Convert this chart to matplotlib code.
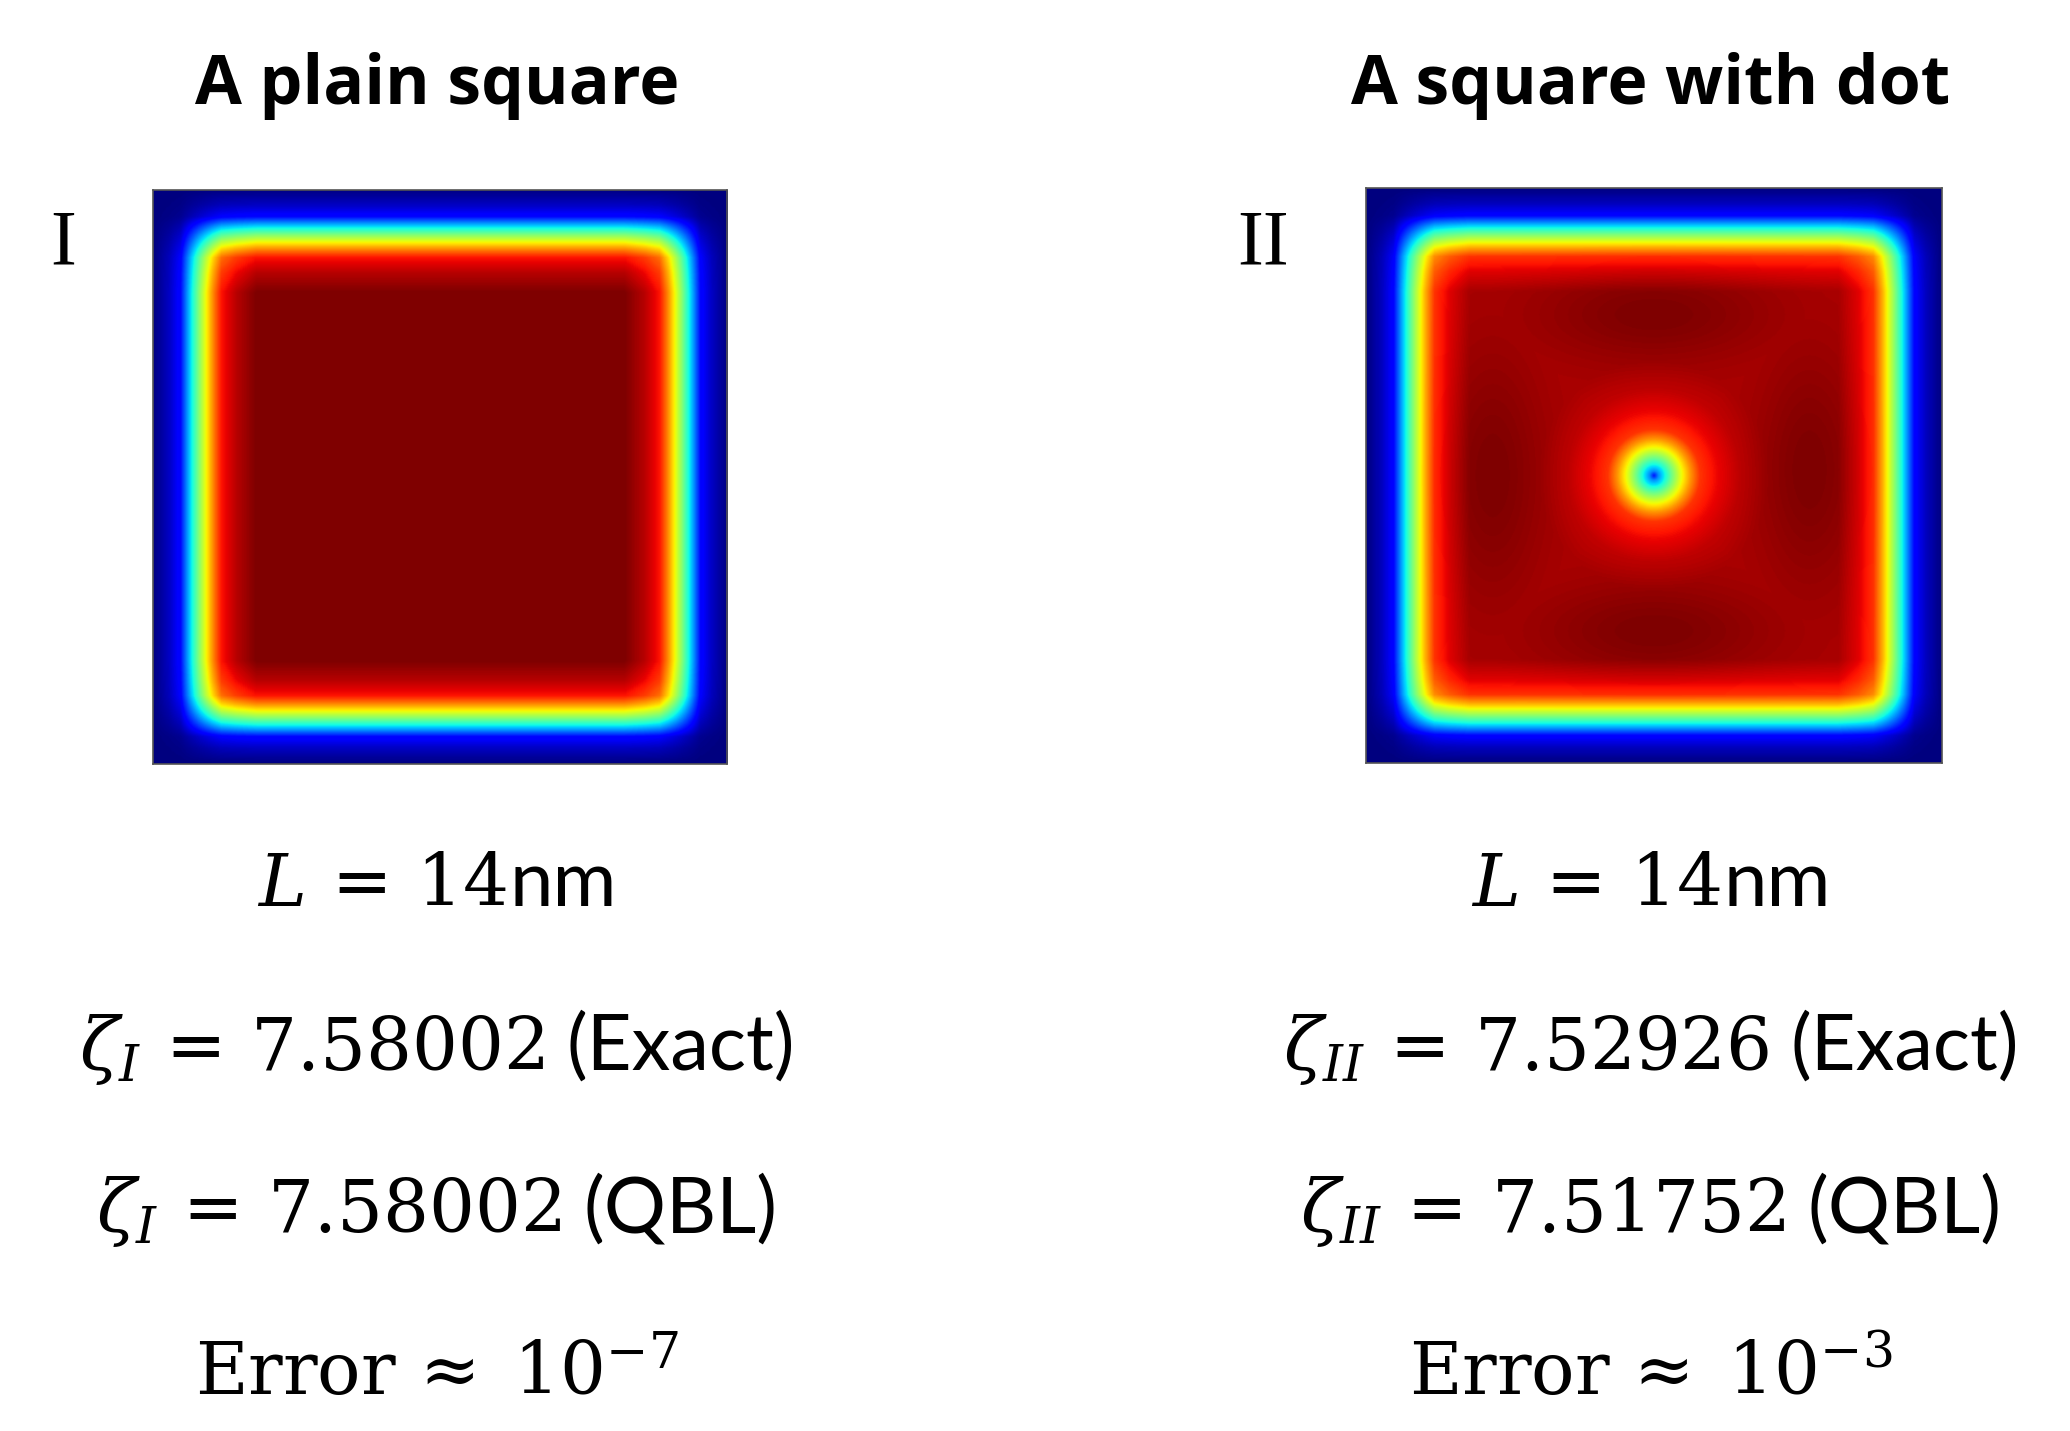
import numpy as np
import matplotlib
matplotlib.use("Agg")
import matplotlib.pyplot as plt

# edge profile: distance from the wall (fraction of side) -> normalised density
edge_dist = [0.0, 0.028, 0.048, 0.066, 0.079, 0.092, 0.104, 0.119, 0.145, 0.180, 0.5]
edge_level = [0.0, 0.06, 0.13, 0.35, 0.50, 0.64, 0.76, 0.89, 0.95, 1.00, 1.00]

# dot profile (panel II): distance from the centre -> factor
dot_r = [0.0, 0.008, 0.017, 0.030, 0.045, 0.063, 0.080, 0.110, 0.150, 0.200, 1.0]
dot_level = [0.15, 0.28, 0.37, 0.50, 0.64, 0.78, 0.89, 0.94, 0.98, 1.00, 1.00]

# darker lobes in panel II: centre x, centre y, spread x, spread y
lobe_x = [0.50, 0.50, 0.22, 0.77]
lobe_y = [0.22, 0.77, 0.50, 0.49]
lobe_sx = [0.15, 0.15, 0.065, 0.065]
lobe_sy = [0.06, 0.06, 0.16, 0.15]
interior_base = 0.96

titles = ["A plain square", "A square with dot"]
panel_tags = ["I", "II"]
zeta_exact = ["7.58002", "7.52926"]
zeta_qbl = ["7.58002", "7.51752"]
zeta_sub = ["I", "II"]
error_exp = ["-7", "-3"]

plt.rcParams["mathtext.fontset"] = "custom"
plt.rcParams["mathtext.rm"] = "DejaVu Serif"
plt.rcParams["mathtext.it"] = "DejaVu Serif:italic"

n = 600
u = (np.arange(n) + 0.5) / n
X, Y = np.meshgrid(u, u)
d = np.minimum(u, 1 - u)
edge = np.interp(d, edge_dist, edge_level)
field_1 = np.outer(edge, edge)

r = np.hypot(X - 0.5, Y - 0.5)
dot = np.interp(r, dot_r, dot_level)
lobes = np.zeros_like(X)
for cx, cy, sx, sy in zip(lobe_x, lobe_y, lobe_sx, lobe_sy):
    lobes = np.maximum(lobes, np.exp(-((X - cx) / sx) ** 2 / 2 - ((Y - cy) / sy) ** 2 / 2))
field_2 = field_1 * dot * (interior_base + (1 - interior_base) * lobes)

fig = plt.figure(figsize=(20.7, 14.31), dpi=100)
W, H = 2070, 1431
renderer = fig.canvas.get_renderer()


def eq_line(cx, base, math, sans, gap):
    # serif math part followed by a sans word, centred as one line
    t1 = fig.text(0, 1 - base / H, math, fontsize=52, va="baseline", ha="left")
    t2 = fig.text(0, 1 - base / H, sans, fontsize=56, family="Lato",
                  va="baseline", ha="left")
    w1 = t1.get_window_extent(renderer).width
    w2 = t2.get_window_extent(renderer).width
    left = cx - (w1 + gap + w2) / 2
    t1.set_x(left / W)
    t2.set_x((left + w1 + gap) / W)


boxes = [(153, 190, 574, 574), (1366, 188, 576, 575)]
centres = [437, 1651]
tag_x = [63, 1263]

for k, field in enumerate([field_1, field_2]):
    x0, y0, w, h = boxes[k]
    ax = fig.add_axes([x0 / W, 1 - (y0 + h) / H, w / W, h / H])
    ax.imshow(field, cmap="jet", vmin=0, vmax=1, interpolation="bilinear",
              extent=[0, 1, 0, 1], aspect="auto")
    ax.set_xticks([])
    ax.set_yticks([])
    for s in ax.spines.values():
        s.set_color("#555555")
        s.set_linewidth(1.2)

    cx = centres[k]
    fig.text(cx / W, 1 - 104 / H, titles[k], ha="center", va="baseline",
             fontsize=49, fontweight="bold", family="Open Sans")
    fig.text(tag_x[k] / W, 1 - 264 / H, panel_tags[k], ha="center", va="baseline",
             fontsize=56, family="Liberation Serif")

    eq_line(cx, 906, "$L\\,=\\,14$", "nm", 2)
    eq_line(cx, 1070, "$\\zeta_{%s}\\,=\\,%s$" % (zeta_sub[k], zeta_exact[k]), "(Exact)", 22)
    eq_line(cx, 1232, "$\\zeta_{%s}\\,=\\,%s$" % (zeta_sub[k], zeta_qbl[k]), "(QBL)", 22)
    fig.text(cx / W, 1 - 1395 / H,
             "$\\mathrm{Error}\\,\\approx\\;10^{%s}$" % error_exp[k],
             ha="center", va="baseline", fontsize=52)

fig.savefig("out.png", dpi=100)
